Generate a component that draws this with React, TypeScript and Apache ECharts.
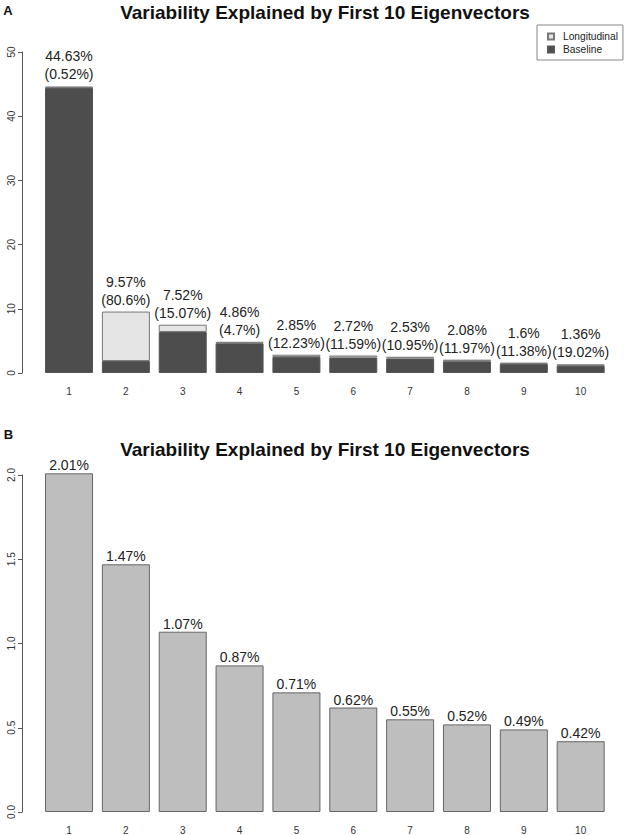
import React, { useEffect, useRef } from "react";
import * as echarts from "echarts";

const categories = ["1", "2", "3", "4", "5", "6", "7", "8", "9", "10"];
// Panel A
const baselineValues = [44.4, 1.86, 6.39, 4.63, 2.5, 2.4, 2.25, 1.83, 1.42, 1.1];
const longitudinalValues = [0.23, 7.71, 1.13, 0.23, 0.35, 0.32, 0.28, 0.25, 0.18, 0.26];
const totalLabels = ["44.63%", "9.57%", "7.52%", "4.86%", "2.85%", "2.72%", "2.53%", "2.08%", "1.6%", "1.36%"];
const shareLabels = ["(0.52%)", "(80.6%)", "(15.07%)", "(4.7%)", "(12.23%)", "(11.59%)", "(10.95%)", "(11.97%)", "(11.38%)", "(19.02%)"];
// Panel B
const valuesB = [2.01, 1.47, 1.07, 0.87, 0.71, 0.62, 0.55, 0.52, 0.49, 0.42];
const labelsB = ["2.01%", "1.47%", "1.07%", "0.87%", "0.71%", "0.62%", "0.55%", "0.52%", "0.49%", "0.42%"];

const titleText = "Variability Explained by First 10 Eigenvectors";
const FONT = "'Liberation Sans', Arial, Helvetica, sans-serif";

export default function App() {
  const ref = useRef<HTMLDivElement>(null);
  useEffect(() => {
    document.body.style.margin = "0";
    if (!ref.current) return;
    const chart = echarts.init(ref.current, undefined, { renderer: "svg" });
    const yAxisCommon = {
      type: "value" as const,
      offset: 18.6,
      axisLine: { show: true, lineStyle: { color: "#555", width: 1 } },
      axisTick: { show: true, length: 4, lineStyle: { color: "#555" } },
      splitLine: { show: false },
      axisLabel: { rotate: 90, fontSize: 10, color: "#333", margin: 6, fontFamily: FONT },
    };
    const xAxisCommon = {
      type: "category" as const,
      data: categories,
      axisLine: { show: false },
      axisTick: { show: false },
      axisLabel: { fontSize: 10, color: "#333", margin: 13, fontFamily: FONT },
    };
    chart.setOption({
      animation: false,
      textStyle: { fontFamily: FONT },
      graphic: [
        { type: "text", x: 8, y: 10, style: { text: "A", font: `bold 13px ${FONT}`, fill: "#111", textAlign: "center", textVerticalAlign: "middle" } },
        { type: "text", x: 325, y: 12, style: { text: titleText, font: `bold 19px ${FONT}`, fill: "#111", textAlign: "center", textVerticalAlign: "middle" } },
        { type: "text", x: 8.5, y: 434, style: { text: "B", font: `bold 13px ${FONT}`, fill: "#111", textAlign: "center", textVerticalAlign: "middle" } },
        { type: "text", x: 325, y: 449, style: { text: titleText, font: `bold 19px ${FONT}`, fill: "#111", textAlign: "center", textVerticalAlign: "middle" } },
      ],
      legend: {
        data: ["Longitudinal", "Baseline"],
        orient: "vertical",
        left: 537,
        top: 25,
        padding: [5, 5, 4, 10],
        itemWidth: 6,
        itemHeight: 6,
        itemGap: 0,
        borderColor: "#888",
        borderWidth: 1,
        icon: "rect",
        textStyle: { fontSize: 10.2, color: "#222", lineHeight: 13, padding: [0, 0, 0, 4], fontFamily: FONT },
      },
      grid: [
        { left: 40.6, width: 568.5, top: 52, height: 321 },
        { left: 40.6, width: 568.5, top: 475, height: 337 },
      ],
      xAxis: [
        { ...xAxisCommon, gridIndex: 0 },
        { ...xAxisCommon, gridIndex: 1 },
      ],
      yAxis: [
        { ...yAxisCommon, gridIndex: 0, min: 0, max: 50, interval: 10 },
        { ...yAxisCommon, gridIndex: 1, min: 0, max: 2, interval: 0.5, axisLabel: { ...yAxisCommon.axisLabel, formatter: (v: number) => v.toFixed(1) } },
      ],
      series: [
        {
          name: "Baseline",
          type: "bar",
          xAxisIndex: 0,
          yAxisIndex: 0,
          stack: "a",
          barWidth: 48,
          data: baselineValues,
          itemStyle: { color: "#4d4d4d", borderColor: "#555", borderWidth: 1 },
        },
        {
          name: "Longitudinal",
          type: "bar",
          xAxisIndex: 0,
          yAxisIndex: 0,
          stack: "a",
          barWidth: 48,
          data: longitudinalValues,
          itemStyle: { color: "#e5e5e5", borderColor: "#777", borderWidth: 1 },
          label: {
            show: true,
            position: "top",
            distance: 3,
            fontSize: 14,
            lineHeight: 18,
            color: "#222",
            fontFamily: FONT,
            formatter: (p: any) => totalLabels[p.dataIndex] + "\n" + shareLabels[p.dataIndex],
          },
        },
        {
          name: "Variability",
          type: "bar",
          xAxisIndex: 1,
          yAxisIndex: 1,
          barWidth: 48,
          clip: false,
          data: valuesB,
          itemStyle: { color: "#bebebe", borderColor: "#666", borderWidth: 1 },
          label: {
            show: true,
            position: "top",
            distance: 1,
            fontSize: 14,
            color: "#222",
            fontFamily: FONT,
            formatter: (p: any) => labelsB[p.dataIndex],
          },
        },
      ],
    });
    return () => chart.dispose();
  }, []);
  return <div ref={ref} style={{ width: 624, height: 835 }} />;
}
